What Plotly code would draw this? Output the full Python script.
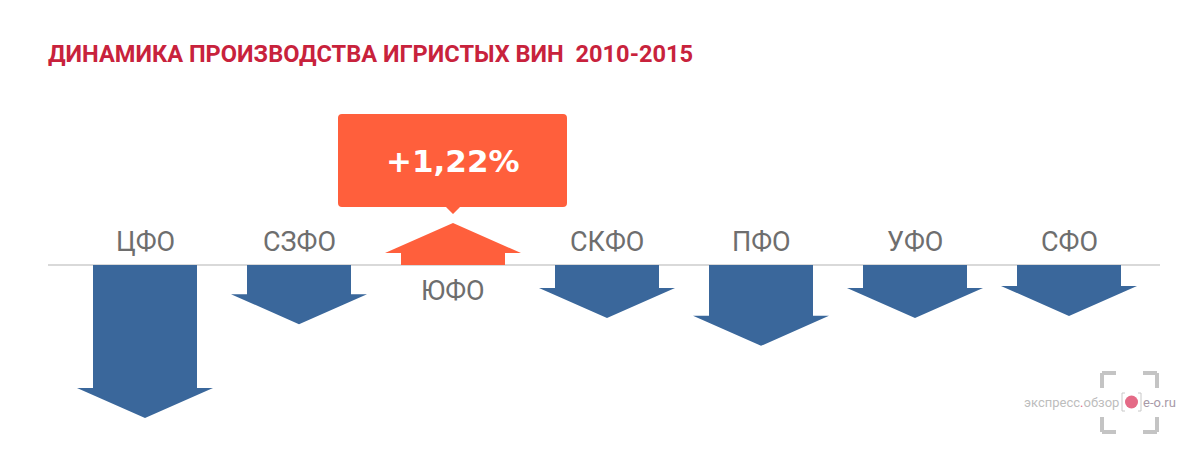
import plotly.graph_objects as go

# ---- data ----
districts = ["ЦФО", "СЗФО", "ЮФО", "СКФО", "ПФО", "УФО", "СФО"]
change_pct = [-4.45, -1.72, 1.22, -1.54, -2.35, -1.54, -1.48]
highlight = "ЮФО"
title_text = "ДИНАМИКА ПРОИЗВОДСТВА ИГРИСТЫХ ВИН  2010-2015"

# ---- layout constants (page pixel units) ----
W, H = 1201, 457
OFF = 8                  # page body margin
BASE_PX = 265            # pixel row of the zero line
UNIT_PX = 34.4           # pixels per 1 %
SLOT0, STEP = 145, 154   # centre of first slot and slot spacing
SHAFT_HALF = 52
HEAD_HALF = 68
HEAD_LEN = 30 / UNIT_PX
BLUE = "#3a679b"
ORANGE = "#ff5f3c"
GREY_TXT = "#6e6e6e"

y_top = (BASE_PX - OFF) / UNIT_PX
y_bot = -(H + OFF - BASE_PX) / UNIT_PX


def py(p):
    return (BASE_PX - p) / UNIT_PX


fig = go.Figure()

for k, (name, v) in enumerate(zip(districts, change_pct)):
    c = SLOT0 + STEP * k
    s, h = SHAFT_HALF, HEAD_HALF
    sign = 1 if v > 0 else -1
    hb = v - sign * HEAD_LEN
    xs = [c - s, c + s, c + s, c + h, c, c - h, c - s, c - s]
    ys = [0, 0, hb, hb, v, hb, hb, 0]
    col = ORANGE if name == highlight else BLUE
    fig.add_trace(go.Scatter(x=xs, y=ys, mode="lines", fill="toself",
                             fillcolor=col, line=dict(color=col, width=0),
                             hoverinfo="skip", showlegend=False))
    fig.add_annotation(x=c, y=0, text=name, showarrow=False,
                       yshift=(23 if v < 0 else -26), yanchor="middle",
                       font=dict(family="Roboto, Open Sans, sans-serif", size=27, color=GREY_TXT))

# zero line
fig.add_shape(type="line", x0=48, x1=1160, y0=0, y1=0,
              line=dict(color="#cccccc", width=1.5), layer="below")

# callout for highlighted district
i = districts.index(highlight)
v = change_pct[i]
c = SLOT0 + STEP * i
tip = v + 9 / UNIT_PX
bb = tip + 7 / UNIT_PX
bt = bb + 93 / UNIT_PX
bl, br = c - 115, c + 114
pw = 7
r = 4
ry = r / UNIT_PX
path = (f"M {c},{tip} L {c+pw},{bb} L {br-r},{bb} Q {br},{bb} {br},{bb+ry} "
        f"L {br},{bt-ry} Q {br},{bt} {br-r},{bt} L {bl+r},{bt} Q {bl},{bt} {bl},{bt-ry} "
        f"L {bl},{bb+ry} Q {bl},{bb} {bl+r},{bb} L {c-pw},{bb} Z")
fig.add_shape(type="path", path=path, fillcolor=ORANGE, line=dict(width=0))
label = ("+" if v > 0 else "") + f"{v:.2f}".replace(".", ",") + "%"
fig.add_annotation(x=c, y=(bb + bt) / 2, text=f"<b>{label}</b>", showarrow=False,
                   yanchor="middle", font=dict(family="DejaVu Sans, Verdana, sans-serif",
                                               size=31, color="white"))

# title
fig.add_annotation(x=46, y=py(54), xanchor="left", yanchor="middle", showarrow=False,
                   text=f"<b>{title_text}</b>",
                   font=dict(family="Roboto, sans-serif", size=23.6, color="#c8223c"))

# watermark
wm = dict(color="#c4c4c4", width=4)
for (x0, y0, x1, y1) in [(1102, 373, 1116, 373), (1102, 373, 1102, 388),
                         (1143, 373, 1157, 373), (1157, 373, 1157, 388),
                         (1102, 432, 1116, 432), (1102, 417, 1102, 432),
                         (1143, 432, 1157, 432), (1157, 417, 1157, 432)]:
    fig.add_shape(type="line", x0=x0, x1=x1, y0=py(y0), y1=py(y1), line=wm)
thin = dict(color="#c8c8c8", width=1)
for (x0, y0, x1, y1) in [(1122, 393, 1122, 411), (1122, 393, 1125, 393), (1122, 411, 1125, 411),
                         (1141, 393, 1141, 411), (1138, 393, 1141, 393), (1138, 411, 1141, 411)]:
    fig.add_shape(type="line", x0=x0, x1=x1, y0=py(y0), y1=py(y1), line=thin)
fig.add_shape(type="circle", x0=1125, x1=1138, y0=py(395.5), y1=py(408.5),
              fillcolor="#e46a86", line=dict(width=0))
fig.add_annotation(x=1121, y=py(402), xanchor="right", yanchor="middle", showarrow=False,
                   text="экспресс<span style='color:#e46a86'>.</span>обзор",
                   font=dict(family="Roboto, sans-serif", size=13, color="#bdbdbd"))
fig.add_annotation(x=1141, y=py(402), xanchor="left", yanchor="middle", showarrow=False,
                   text="e-o.ru", font=dict(family="Roboto, sans-serif", size=13, color="#a89aa8"))

fig.update_layout(
    width=W, height=H, margin=dict(l=0, r=0, t=0, b=0),
    paper_bgcolor="white", plot_bgcolor="white",
    xaxis=dict(range=[OFF, W + OFF], visible=False, fixedrange=True),
    yaxis=dict(range=[y_bot, y_top], visible=False, fixedrange=True),
    showlegend=False,
)

fig.write_html("out.html")
